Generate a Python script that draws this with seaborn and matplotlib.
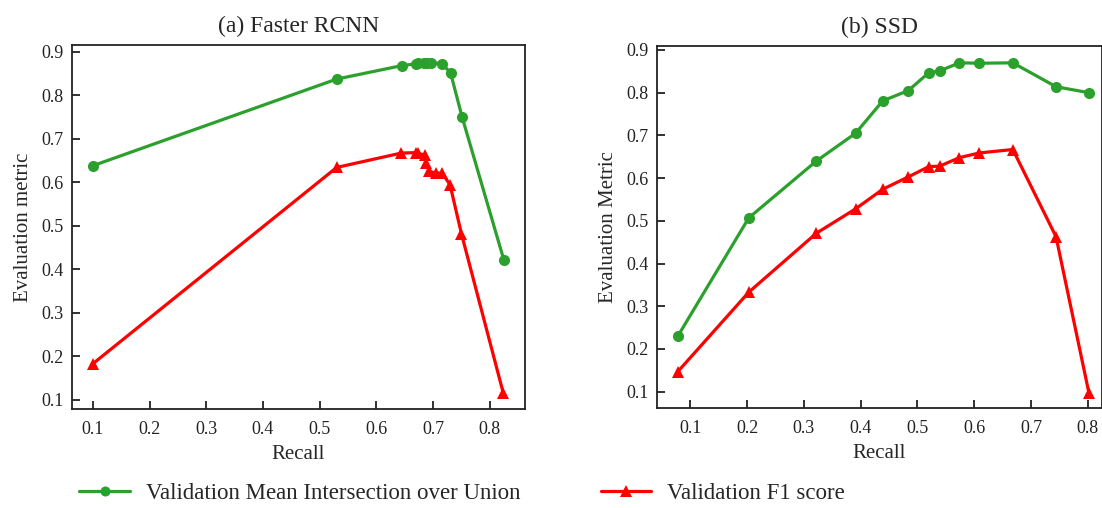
import matplotlib
matplotlib.use("Agg")
import matplotlib.pyplot as plt
import seaborn as sns
import pandas as pd

# Faster RCNN
frcnn_recall_miou = [0.100, 0.530, 0.645, 0.670, 0.673, 0.684, 0.690, 0.696, 0.716, 0.731, 0.751, 0.825]
frcnn_miou = [0.638, 0.837, 0.868, 0.872, 0.873, 0.874, 0.875, 0.875, 0.872, 0.851, 0.751, 0.421]
frcnn_recall_f1 = [0.100, 0.530, 0.644, 0.670, 0.673, 0.685, 0.688, 0.693, 0.705, 0.716, 0.730, 0.750, 0.824]
frcnn_f1 = [0.183, 0.634, 0.667, 0.668, 0.666, 0.663, 0.644, 0.625, 0.621, 0.621, 0.594, 0.482, 0.115]

# SSD
ssd_recall = [0.078, 0.203, 0.322, 0.391, 0.439, 0.484, 0.520, 0.539, 0.574, 0.609, 0.668, 0.744, 0.802]
ssd_miou = [0.230, 0.507, 0.640, 0.705, 0.781, 0.805, 0.847, 0.851, 0.870, 0.869, 0.870, 0.814, 0.800]
ssd_f1 = [0.147, 0.333, 0.471, 0.528, 0.574, 0.603, 0.627, 0.628, 0.648, 0.659, 0.667, 0.463, 0.097]

titles = ["(a) Faster RCNN", "(b) SSD"]
ylabels = ["Evaluation metric", "Evaluation Metric"]
xlabel = "Recall"
series_names = ["Validation Mean Intersection over Union", "Validation F1 score"]
xticks = [0.1, 0.2, 0.3, 0.4, 0.5, 0.6, 0.7, 0.8]
yticks = [0.1, 0.2, 0.3, 0.4, 0.5, 0.6, 0.7, 0.8, 0.9]

sns.set_style("ticks")
plt.rcParams["font.family"] = ["Liberation Serif", "DejaVu Serif"]
plt.rcParams["mathtext.fontset"] = "stix"

GREEN = "#2ca02c"
RED = "#ff0000"

fig = plt.figure(figsize=(11.02, 5.08), dpi=100)
ax1 = fig.add_axes([0.0653, 0.195, 0.411, 0.717])
ax2 = fig.add_axes([0.596, 0.197, 0.404, 0.713])

def draw(ax, xm, ym, xf, yf):
    sns.lineplot(x=xm, y=ym, ax=ax, color=GREEN, marker="o", markersize=8,
                 markeredgewidth=0, linewidth=2.3, sort=False, estimator=None,
                 label=series_names[0], legend=False)
    sns.lineplot(x=xf, y=yf, ax=ax, color=RED, marker="^", markersize=9,
                 markeredgewidth=0, linewidth=2.3, sort=False, estimator=None,
                 label=series_names[1], legend=False)

draw(ax1, frcnn_recall_miou, frcnn_miou, frcnn_recall_f1, frcnn_f1)
draw(ax2, ssd_recall, ssd_miou, ssd_recall, ssd_f1)

limits = [((0.063, 0.862), (0.079, 0.916)), ((0.041, 0.825), (0.062, 0.910))]
for ax, t, yl, (xl, ylim) in zip([ax1, ax2], titles, ylabels, limits):
    ax.set_xlim(*xl)
    ax.set_ylim(*ylim)
    ax.set_xticks(xticks)
    ax.set_yticks(yticks)
    ax.set_xticklabels([f"{v:.1f}" for v in xticks])
    ax.set_yticklabels([f"{v:.1f}" for v in yticks])
    ax.tick_params(direction="in", length=6, width=1.3, labelsize=13,
                   top=False, right=False, pad=6, colors="#222222")
    ax.tick_params(axis="x", pad=9)
    ax.set_title(t, fontsize=17, pad=9)
    ax.set_xlabel(xlabel, fontsize=15, labelpad=5)
    ax.set_ylabel(yl, fontsize=15, labelpad=6)
    for s in ax.spines.values():
        s.set_visible(True)
        s.set_linewidth(1.3)
        s.set_color("#222222")

handles, labels = ax1.get_legend_handles_labels()
fig.legend(handles, labels, loc="center left", bbox_to_anchor=(0.072, 0.028),
           ncol=2, frameon=False, fontsize=16.5, columnspacing=3.5,
           handlelength=2.2, handletextpad=0.7, borderpad=0, borderaxespad=0,
           markerscale=0.9)

fig.savefig("out.png", dpi=100)
